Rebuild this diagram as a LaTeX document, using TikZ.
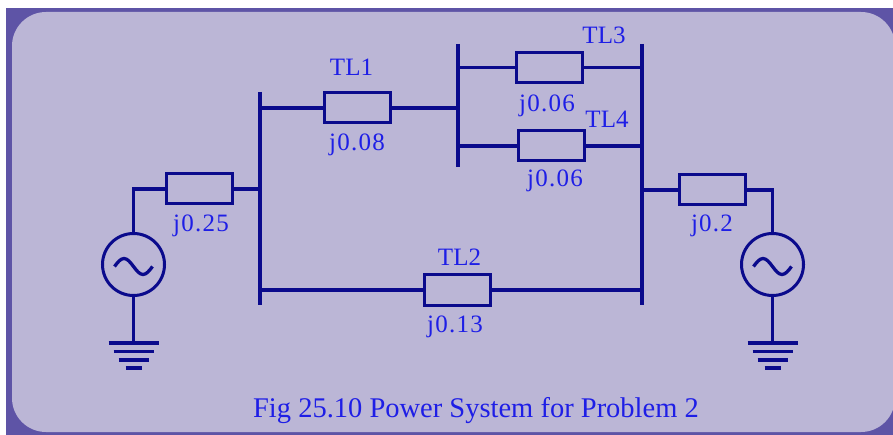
\documentclass[tikz,border=0pt]{standalone}
\usepackage{fontspec}
\setmainfont{Liberation Serif}
\definecolor{frame}{RGB}{94,84,166}
\definecolor{panel}{RGB}{187,182,214}
\definecolor{wire}{RGB}{10,10,140}
\definecolor{lbl}{RGB}{30,30,230}

\begin{document}
\begin{tikzpicture}[x=1pt,y=-1pt,
  line/.style={draw=wire,line width=3.3pt},
  bus/.style={draw=wire,line width=4pt},
  imp/.style={draw=wire,line width=3pt,minimum width=66pt,minimum height=30pt,inner sep=0pt},
  gen/.style={shape=circle,draw=wire,line width=3pt,minimum size=62pt,inner sep=0pt},
  lab/.style={text=lbl,anchor=base,inner sep=0pt,font=\fontsize{25}{25}\selectfont},
  val/.style={lab,font=\fontsize{25}{25}\selectfont\addfontfeatures{LetterSpace=5}}]
\useasboundingbox (0,0) rectangle (893,435);
\fill[white] (0,0) rectangle (893,435);
\fill[frame] (6,8) rectangle (893,435);
\fill[panel,rounded corners=34pt] (12,12) rectangle (895,432);

\node[imp] (tl1) at (357.5,108) {};
\node[imp] (tl3) at (549.5,67.5) {};
\node[imp] (tl4) at (551.5,146) {};
\node[imp] (tl2) at (457.5,290) {};
\node[imp] (zg1) at (199,189) {};
\node[imp] (zg2) at (712,190) {};
\node[gen] (g1) at (133.5,264.5) {};
\node[gen] (g2) at (772.5,264.5) {};

\coordinate (a1) at (260,92);
\coordinate (a2) at (260,305);
\coordinate (b1) at (458,44);
\coordinate (b2) at (458,167);
\coordinate (c1) at (642,44);
\coordinate (c2) at (642,305);
\coordinate (e1) at (133.5,343);
\coordinate (e2) at (772.5,343);

\path[bus] (a1) edge (a2);
\path[bus] (b1) edge (b2);
\path[bus] (c1) edge (c2);

\path[line] (tl1.west) edge (tl1.west -| a1);
\path[line] (tl1.east) edge (tl1.east -| b1);
\path[line] (tl3.west) edge (tl3.west -| b1);
\path[line] (tl3.east) edge (tl3.east -| c1);
\path[line] (tl4.west) edge (tl4.west -| b1);
\path[line] (tl4.east) edge (tl4.east -| c1);
\path[line] (tl2.west) edge (tl2.west -| a1);
\path[line] (tl2.east) edge (tl2.east -| c1);
\path[line] (zg1.east) edge (zg1.east -| a1);
\path[line] (zg2.west) edge (zg2.west -| c1);
\draw[line] (zg1.west) -| (g1.north);
\draw[line] (zg2.east) -| (g2.north);
\path[line] (g1.south) edge (e1);
\path[line] (g2.south) edge (e2);

\foreach \e in {e1,e2}
  \foreach \w/\d in {25/0,20/8.5,15/17,8/25}
    \draw[line] (\e) ++(-\w,\d) -- ++(2*\w,0);
\foreach \g in {g1,g2}
  \draw[line,line width=3.3pt] (\g) ++(-19,2) sin ++(9.5,-8) cos ++(9.5,8) sin ++(9.5,8) cos ++(9.5,-8);

\node[lab] (n1) at (351.5,76) {TL1};
\node[val] (v1) at (357,151) {j0.08};
\node[lab] (n3) at (604,44) {TL3};
\node[val] (v3) at (547,112) {j0.06};
\node[lab] (n4) at (607,128) {TL4};
\node[val] (v4) at (555,187) {j0.06};
\node[lab] (n2) at (459.5,266) {TL2};
\node[val] (v2) at (455,332) {j0.13};
\node[val] (vg1) at (201,232) {j0.25};
\node[val] (vg2) at (712,232) {j0.2};
\node[lab,font=\fontsize{28.5}{28.5}\selectfont] (cap) at (476,417) {Fig 25.10 Power System for Problem 2};
\end{tikzpicture}
\end{document}
